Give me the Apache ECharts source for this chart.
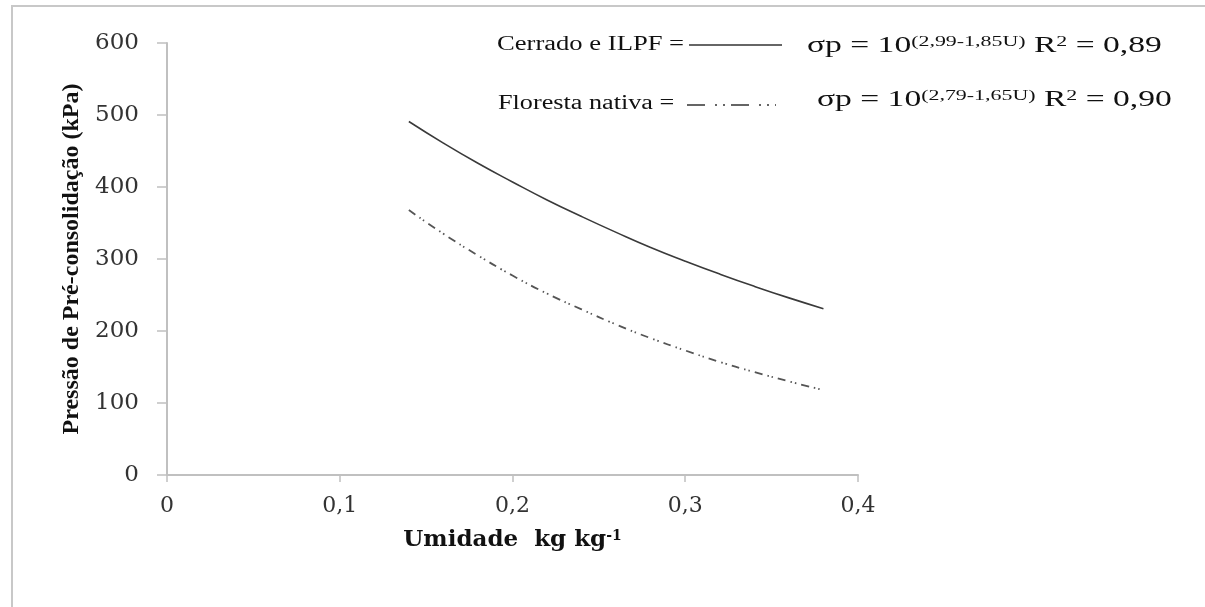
<!DOCTYPE html>
<html>
<head>
<meta charset="utf-8">
<script src="https://cdn.jsdelivr.net/npm/echarts@6/dist/echarts.min.js"></script>
<style>
  html, body { margin: 0; padding: 0; background: #ffffff; }
  #chart { width: 1205px; height: 607px; }
</style>
</head>
<body>
<div id="chart"></div>
<script>
// Soil moisture (kg kg-1) sampled along the fitted curves
const umidade = [0.14, 0.16, 0.18, 0.20, 0.22, 0.24, 0.26, 0.28, 0.30, 0.32, 0.34, 0.36, 0.38];
// Preconsolidation pressure (kPa) per land use
const cerradoIlpf = [491, 461, 433, 407, 382, 359, 337, 316, 297, 279, 262, 246, 231];
const florestaNativa = [368, 335, 305, 277, 252, 230, 209, 190, 173, 157, 143, 130, 118];

const seriesNames = ['Cerrado e ILPF', 'Floresta nativa'];
const equations = [
  { coef: '(2,99-1,85U)', r2: '0,89' },
  { coef: '(2,79-1,65U)', r2: '0,90' }
];

const AXIS_GRAY = '#c0c0c0';
const SERIF = '"Liberation Serif", "Times New Roman", serif';
const WIDE_SERIF = '"DejaVu Serif", serif';

function pairs(xs, ys) {
  return xs.map((x, i) => [x, ys[i]]);
}

function equationText(eq) {
  return '{m|σp = 10}{sup|' + eq.coef + '}{m| R}{sup|2}{m| = ' + eq.r2 + '}';
}

const eqRich = {
  m: { fontFamily: SERIF, fontSize: 23, fill: '#111', color: '#111', verticalAlign: 'bottom' },
  sup: { fontFamily: SERIF, fontSize: 15, fill: '#111', color: '#111', verticalAlign: 'top' }
};

const chart = echarts.init(document.getElementById('chart'), null, { renderer: 'canvas' });

chart.setOption({
  backgroundColor: '#ffffff',
  animation: false,
  grid: { left: 167, top: 43, right: 347, bottom: 132, containLabel: false },
  xAxis: {
    type: 'value',
    min: 0,
    max: 0.4,
    interval: 0.1,
    name: '{t|Umidade  kg kg}{s|-1}',
    nameLocation: 'middle',
    nameGap: 54,
    nameTextStyle: {
      rich: {
        t: { fontFamily: WIDE_SERIF, fontWeight: 'bold', fontSize: 23, color: '#111', verticalAlign: 'bottom' },
        s: { fontFamily: WIDE_SERIF, fontWeight: 'bold', fontSize: 14, color: '#111', verticalAlign: 'top' }
      }
    },
    axisLine: { show: true, lineStyle: { color: AXIS_GRAY, width: 2 } },
    axisTick: { show: true, length: 7, lineStyle: { color: AXIS_GRAY, width: 1.5 } },
    axisLabel: {
      margin: 20,
      fontFamily: WIDE_SERIF,
      fontSize: 22,
      color: '#333',
      formatter: v => String(Math.round(v * 10) / 10).replace('.', ',')
    },
    splitLine: { show: false }
  },
  yAxis: {
    type: 'value',
    min: 0,
    max: 600,
    interval: 100,
    name: 'Pressão de Pré-consolidação (kPa)',
    nameLocation: 'middle',
    nameGap: 82,
    nameRotate: 90,
    nameTextStyle: { fontFamily: SERIF, fontWeight: 'bold', fontSize: 24, color: '#111' },
    axisLine: { show: true, lineStyle: { color: AXIS_GRAY, width: 2 } },
    axisTick: { show: true, length: 10, lineStyle: { color: AXIS_GRAY, width: 1.5 } },
    axisLabel: { margin: 28, fontFamily: WIDE_SERIF, fontSize: 23, color: '#333' },
    splitLine: { show: false }
  },
  series: [
    {
      name: seriesNames[0],
      type: 'line',
      data: pairs(umidade, cerradoIlpf),
      smooth: true,
      showSymbol: false,
      lineStyle: { color: '#3a3a3a', width: 1.6, type: 'solid' }
    },
    {
      name: seriesNames[1],
      type: 'line',
      data: pairs(umidade, florestaNativa),
      smooth: true,
      showSymbol: false,
      lineStyle: { color: '#555555', width: 1.8, type: [8, 5, 1.5, 3, 1.5, 5] }
    }
  ],
  graphic: [
    // outer frame (top and left edges)
    {
      type: 'polyline',
      shape: { points: [[12, 610], [12, 6], [1210, 6]] },
      style: { stroke: '#c8c8c8', lineWidth: 2, fill: null },
      silent: true
    },
    // legend row 1
    {
      type: 'text', x: 497, y: 45, scaleX: 1.33,
      style: { text: seriesNames[0] + ' =', fontFamily: SERIF, fontSize: 20, fill: '#111', verticalAlign: 'middle', align: 'left' }
    },
    {
      type: 'line',
      shape: { x1: 689, y1: 45, x2: 782, y2: 45 },
      style: { stroke: '#333', lineWidth: 1.5 }
    },
    {
      type: 'text', x: 807, y: 46, scaleX: 1.46,
      style: { text: equationText(equations[0]), rich: eqRich, verticalAlign: 'middle', align: 'left' }
    },
    // legend row 2
    {
      type: 'text', x: 498, y: 104, scaleX: 1.31,
      style: { text: seriesNames[1] + ' =', fontFamily: SERIF, fontSize: 20, fill: '#111', verticalAlign: 'middle', align: 'left' }
    },
    {
      type: 'line',
      shape: { x1: 687, y1: 105, x2: 776, y2: 105 },
      style: { stroke: '#333', lineWidth: 1.6, lineDash: [18, 10, 2, 6, 2, 6] }
    },
    {
      type: 'text', x: 817, y: 100, scaleX: 1.46,
      style: { text: equationText(equations[1]), rich: eqRich, verticalAlign: 'middle', align: 'left' }
    }
  ]
});
</script>
</body>
</html>
